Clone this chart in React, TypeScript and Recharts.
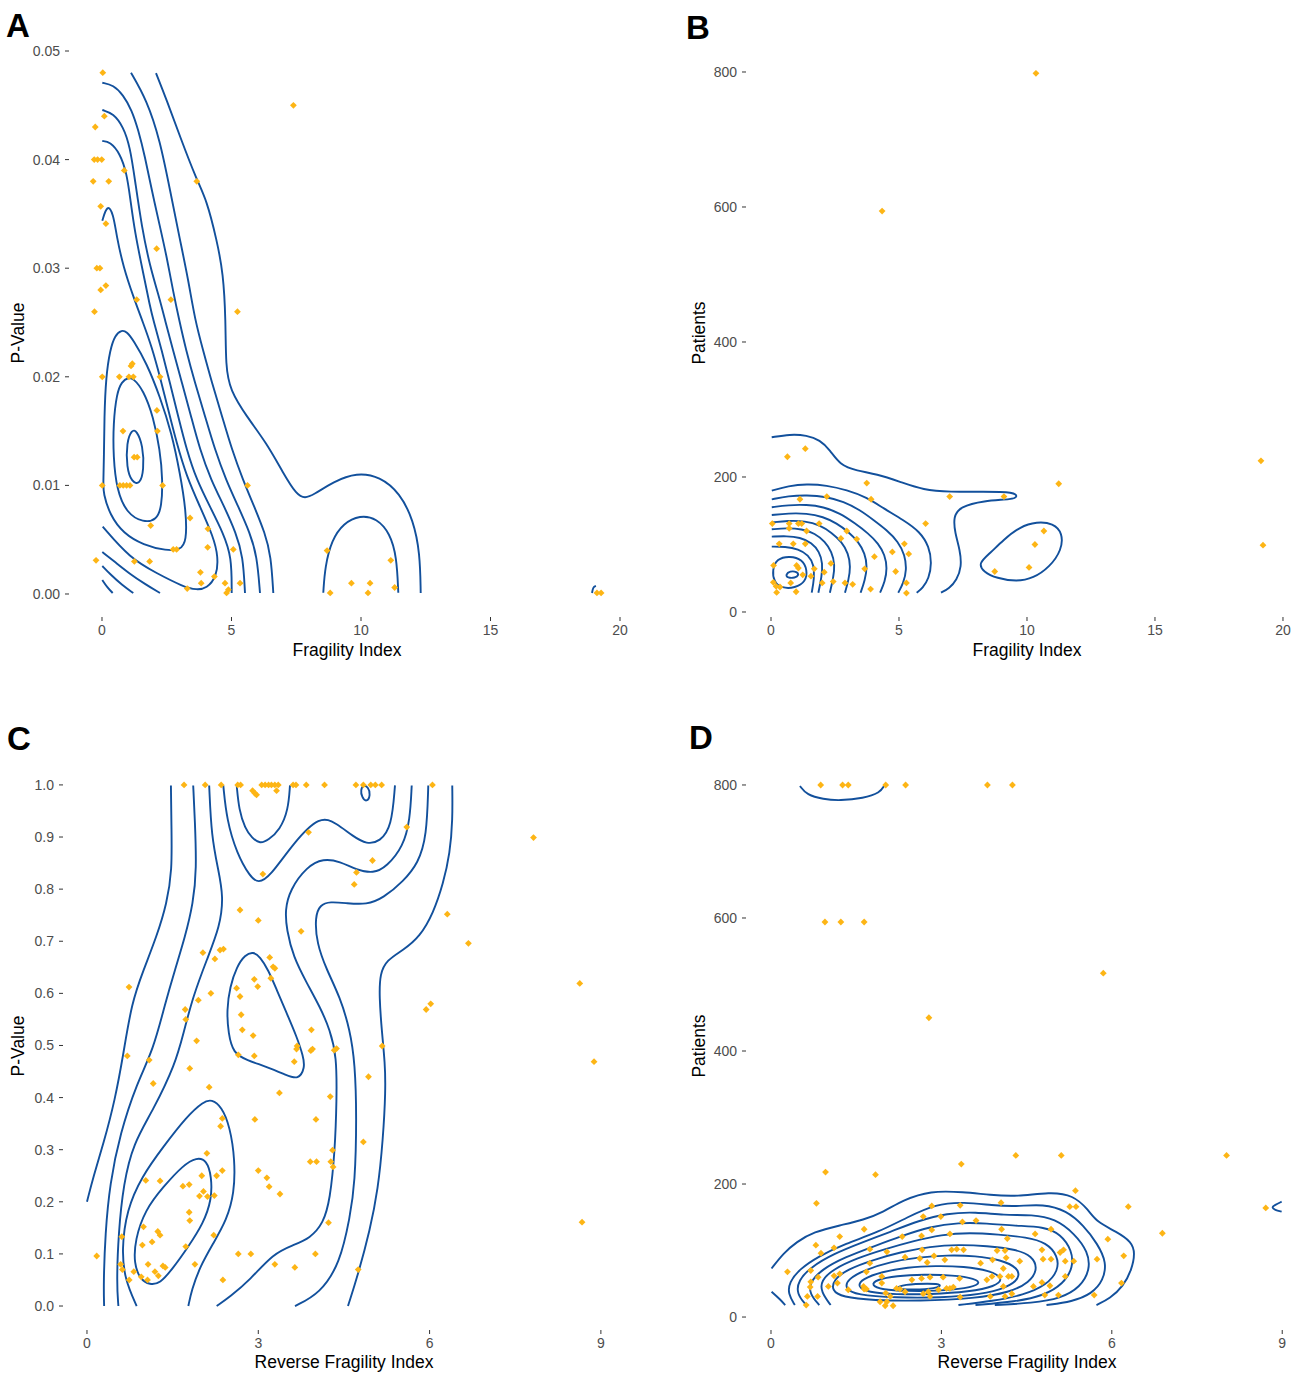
import React from 'react';
import { ScatterChart, Scatter, XAxis, YAxis } from 'recharts';

type P = [number, number];

const BLUE = '#12509C';
const GOLD = '#FDB515';
const FONT = "'Liberation Sans', Arial, Helvetica, sans-serif";

// ---------------- Panel A : Fragility Index vs P-Value ----------------
const A_X_TICKS = [0, 5, 10, 15, 20];
const A_Y_TICKS = [0, 0.01, 0.02, 0.03, 0.04, 0.05];
const A_POINTS: P[] = [
  [0.03, 0.048], [7.39, 0.045], [0.09, 0.044], [-0.26, 0.043], [-0.3, 0.04], [-0.17, 0.04], [-0.01, 0.04],
  [0.86, 0.039], [-0.34, 0.038], [0.26, 0.038], [3.66, 0.038], [-0.05, 0.0357], [0.15, 0.0341], [2.11, 0.0318],
  [-0.2, 0.03], [-0.08, 0.03], [0.15, 0.0284], [-0.05, 0.028], [1.34, 0.0271], [2.66, 0.0271], [-0.29, 0.026],
  [5.23, 0.026], [1.12, 0.021], [1.17, 0.0212], [0.01, 0.02], [0.67, 0.02], [1.04, 0.02], [1.21, 0.02], [2.24, 0.02],
  [2.12, 0.0169], [0.81, 0.015], [2.14, 0.015], [1.24, 0.0126], [1.36, 0.0126], [0.01, 0.01], [0.69, 0.01],
  [0.82, 0.01], [0.95, 0.01], [1.08, 0.01], [2.34, 0.01], [5.62, 0.01], [3.4, 0.007], [1.88, 0.0063], [4.09, 0.006],
  [2.75, 0.0041], [2.88, 0.0041], [4.08, 0.0043], [5.07, 0.0041], [8.69, 0.004], [-0.23, 0.0031], [1.25, 0.003],
  [1.84, 0.003], [11.15, 0.0031], [3.8, 0.002], [4.34, 0.0016], [3.83, 0.001], [4.75, 0.001], [5.33, 0.001],
  [9.63, 0.001], [10.35, 0.001], [11.3, 0.0006], [3.29, 0.0005], [4.81, 0.0001], [4.88, 0.0004], [8.81, 0.0001],
  [10.27, 0.0001], [19.11, 0.0001], [19.27, 0.0001],
];
const A_OPEN: P[][] = [
  [[0.012, 0.03437], [0.205, 0.03591], [0.436, 0.03505], [0.568, 0.0329], [0.822, 0.03014], [1.208, 0.02738],
   [1.595, 0.02493], [1.919, 0.02277], [2.239, 0.02001], [2.56, 0.01694], [2.884, 0.01388], [3.27, 0.0108],
   [3.784, 0.00804], [4.297, 0.00528], [4.49, 0.00343], [4.429, 0.00159], [4.042, 0.00052], [3.656, 0.00037],
   [3.139, 0.00067], [2.112, 0.00191], [1.081, 0.00329], [0.027, 0.0062]],
  [[0.012, 0.00387], [0.502, 0.00295], [1.081, 0.00184], [1.66, 0.00092], [2.239, 0.00009]],
  [[0.012, 0.00258], [0.309, 0.00184], [0.772, 0.00083], [1.208, 0.00009]],
  [[0.012, 0.00129], [0.193, 0.00064], [0.413, 0.00009]],
  [[0.012, 0.04171], [0.309, 0.04165], [0.695, 0.04058], [0.954, 0.03874], [1.081, 0.03659], [1.274, 0.03321],
   [1.595, 0.02953], [1.853, 0.02646], [1.981, 0.02523], [2.305, 0.02247], [2.625, 0.0194], [2.946, 0.01633],
   [3.27, 0.01326], [3.656, 0.0105], [4.17, 0.00804], [4.683, 0.00559], [5.007, 0.00343], [5.007, 0.00009]],
  [[0.012, 0.04457], [0.436, 0.04426], [0.822, 0.04303], [1.081, 0.04119], [1.274, 0.03812], [1.533, 0.03382],
   [1.853, 0.03014], [2.239, 0.02707], [2.432, 0.02523], [2.741, 0.02247], [3.089, 0.01943], [3.436, 0.01639],
   [3.784, 0.01326], [4.208, 0.0105], [4.71, 0.0081], [5.174, 0.00562], [5.444, 0.0035], [5.521, 0.00009]],
  [[0.012, 0.04708], [0.436, 0.04687], [0.822, 0.04595], [1.147, 0.04457], [1.402, 0.04273], [1.66, 0.04027],
   [1.919, 0.0372], [2.239, 0.03382], [2.498, 0.03106], [2.76, 0.02769], [2.98, 0.02523], [3.243, 0.02247],
   [3.591, 0.01943], [3.977, 0.01639], [4.363, 0.01326], [4.788, 0.0105], [5.251, 0.0081], [5.714, 0.00562],
   [5.985, 0.0035], [6.1, 0.00009]],
  [[1.12, 0.048], [1.726, 0.04549], [2.239, 0.0418], [2.625, 0.0372], [3.012, 0.0326], [3.333, 0.02891],
   [3.591, 0.02523], [3.9, 0.02247], [4.247, 0.01943], [4.633, 0.01639], [5.019, 0.01326], [5.444, 0.0105],
   [5.869, 0.0081], [6.293, 0.00562], [6.525, 0.0035], [6.614, 0.00009]],
  [[2.085, 0.04797], [2.498, 0.04549], [3.012, 0.04211], [3.656, 0.03812], [4.042, 0.03628], [4.429, 0.0326],
   [4.683, 0.02953], [4.776, 0.02523], [4.776, 0.02093], [4.942, 0.01878], [5.587, 0.01633], [6.359, 0.01388],
   [7.001, 0.01111], [7.517, 0.00912], [7.838, 0.00881], [8.162, 0.00912], [8.934, 0.01035], [9.834, 0.01118],
   [10.734, 0.01081], [11.506, 0.00928], [12.02, 0.00681], [12.278, 0.00375], [12.305, 0.00009]],
  [[8.544, 0.00012], [8.61, 0.00251], [8.869, 0.00497], [9.317, 0.00651], [9.961, 0.00727], [10.606, 0.00697],
   [11.12, 0.00559], [11.378, 0.00343], [11.44, 0.00012]],
  [[18.92, 0.00009], [18.96, 0.00064], [19.07, 0.00074]],
];
const A_CLOSED: P[][] = [
  [[1.147, 0.01514], [0.95, 0.01398], [0.95, 0.01162], [1.147, 0.0103], [1.46, 0.01005], [1.62, 0.01142],
   [1.58, 0.01366], [1.34, 0.01505]],
  [[1.015, 0.01995], [0.761, 0.01955], [0.568, 0.01848], [0.436, 0.01572], [0.436, 0.01264], [0.568, 0.00958],
   [0.954, 0.00743], [1.595, 0.00657], [2.112, 0.00681], [2.305, 0.00804], [2.344, 0.0105], [2.239, 0.01326],
   [1.981, 0.01633], [1.595, 0.01878], [1.208, 0.01986]],
  [[0.761, 0.02431], [0.502, 0.02385], [0.309, 0.02247], [0.154, 0.02001], [0.089, 0.01633], [0.077, 0.01264],
   [0.05, 0.01019], [0.05, 0.00927], [0.309, 0.00727], [0.822, 0.00559], [1.595, 0.00451], [2.498, 0.00399],
   [3.012, 0.00405], [3.27, 0.00482], [3.243, 0.00773], [3.012, 0.01111], [2.691, 0.0148], [2.239, 0.01817],
   [1.726, 0.02124], [1.208, 0.02339], [0.954, 0.02416]],
];

// ---------------- Panel B : Fragility Index vs Patients ----------------
const B_X_TICKS = [0, 5, 10, 15, 20];
const B_Y_TICKS = [0, 200, 400, 600, 800];
const B_POINTS: P[] = [
  [10.35, 798], [4.34, 594], [19.14, 224], [19.22, 99], [11.24, 190], [9.1, 171], [10.66, 120], [10.31, 100],
  [10.08, 66], [8.74, 60], [1.34, 242], [0.64, 230], [3.74, 191], [1.13, 167], [2.18, 171], [3.91, 167],
  [6.98, 171], [6.04, 131], [0.05, 131], [0.71, 131], [1.07, 131], [1.2, 131], [0.71, 124], [1.39, 120],
  [1.88, 131], [2.96, 120], [3.35, 108], [2.73, 109], [0.32, 101], [0.87, 101], [1.34, 101], [5.21, 101],
  [5.38, 86], [4.74, 89], [4.04, 82], [0.1, 69], [1.0, 69], [1.07, 65], [1.69, 64], [2.34, 72], [3.66, 64],
  [4.87, 60], [1.24, 55], [2.08, 59], [1.56, 53], [0.09, 44], [0.77, 43], [2.0, 43], [2.43, 45], [2.89, 43],
  [3.19, 41], [5.29, 43], [0.2, 38], [0.35, 37], [0.22, 29], [0.98, 30], [3.89, 34], [5.29, 28],
];
const B_OPEN: P[][] = [
  [[0.027, 258.8], [0.742, 263.3], [1.395, 261.8], [1.914, 254.8], [2.305, 240], [2.695, 217.8], [3.348, 209.3],
   [4.129, 204.4], [5.039, 193], [5.951, 180.7], [6.992, 177.8], [8.293, 178.2], [9.531, 177.8], [9.621, 170.8],
   [9.465, 167], [8.293, 164.9], [7.383, 156], [7.122, 141.2], [7.188, 116.6], [7.383, 91.9], [7.449, 67.1],
   [7.254, 47.4], [6.965, 35.1], [6.641, 28.6]],
  [[0.03, 179.7], [0.68, 186.7], [1.39, 189.6], [2.17, 187.7], [2.96, 180.7], [3.74, 169.9], [4.39, 153.6],
   [5.17, 136.3], [5.82, 119.0], [6.18, 96.8], [6.28, 72.1], [6.17, 49.9], [5.92, 35.1], [5.69, 28.6]],
  [[0.03, 166.9], [0.68, 171.8], [1.39, 173.3], [2.17, 170.9], [2.83, 163.5], [3.48, 151.1], [4.0, 136.3],
   [4.52, 121.5], [4.97, 104.2], [5.23, 84.4], [5.3, 62.2], [5.17, 42.5], [4.97, 28.6]],
  [[0.03, 155.1], [0.68, 158.5], [1.39, 159.0], [2.04, 156.0], [2.7, 146.2], [3.28, 131.4], [3.8, 116.5],
   [4.19, 101.7], [4.45, 84.4], [4.54, 64.7], [4.45, 44.9], [4.26, 28.6]],
  [[0.03, 143.7], [0.68, 146.2], [1.39, 146.2], [2.04, 141.2], [2.57, 131.4], [3.02, 119.0], [3.41, 104.2],
   [3.67, 86.9], [3.76, 67.2], [3.67, 47.4], [3.5, 28.6]],
  [[0.03, 132.8], [0.68, 135.3], [1.33, 134.8], [1.91, 128.9], [2.37, 117.5], [2.76, 104.2], [3.02, 86.9],
   [3.11, 67.2], [3.03, 47.4], [2.89, 28.6]],
  [[0.03, 122.5], [0.61, 124.4], [1.2, 123.0], [1.72, 116.5], [2.11, 104.2], [2.37, 89.4], [2.5, 69.6],
   [2.43, 49.9], [2.3, 28.6]],
  [[0.03, 111.6], [0.61, 112.6], [1.13, 110.6], [1.59, 102.7], [1.89, 89.4], [2.02, 72.1], [1.98, 52.3],
   [1.85, 28.6]],
  [[0.03, 96.8], [0.55, 96.8], [1.07, 93.3], [1.46, 84.4], [1.68, 69.6], [1.69, 49.9], [1.59, 28.6]],
];
const B_CLOSED: P[][] = [
  [[8.098, 72.1], [8.555, 87], [9.074, 106.7], [9.727, 126.4], [10.379, 133.8], [11.027, 131.4], [11.395, 116.6],
   [11.355, 91.9], [10.898, 67.1], [10.246, 49.9], [9.598, 44.9], [8.816, 49.9], [8.293, 59.7]],
  [[0.22, 79.0], [0.74, 83.0], [1.22, 78.0], [1.42, 62.2], [1.36, 44.9], [0.94, 35.5], [0.42, 35.0], [0.11, 44.9],
   [0.05, 62.2]],
  [[0.57, 55.3], [0.74, 60.8], [1.02, 59.8], [1.09, 54.3], [0.94, 50.4], [0.64, 50.4]],
];

// ---------------- Panel C : Reverse Fragility Index vs P-Value ----------------
const C_X_TICKS = [0, 3, 6, 9];
const C_Y_TICKS = [0, 0.1, 0.2, 0.3, 0.4, 0.5, 0.6, 0.7, 0.8, 0.9, 1.0];
const C_TOP_ROW_X = [1.7, 2.07, 2.35, 2.64, 2.69, 3.06, 3.12, 3.18, 3.23, 3.29, 3.35, 3.61, 3.66, 3.84, 4.16,
  4.71, 4.84, 4.97, 5.05, 5.16, 6.05];
const C_POINTS: P[] = [
  [2.9, 0.989], [2.94, 0.984], [2.97, 0.981], [3.32, 0.989], [3.88, 0.909], [3.08, 0.829], [4.72, 0.832],
  [4.68, 0.809], [2.68, 0.76], [3.0, 0.74], [3.75, 0.719], [2.03, 0.678], [2.24, 0.666], [2.33, 0.683],
  [2.39, 0.685], [3.2, 0.669], [3.29, 0.648], [3.26, 0.651], [0.736, 0.612], [2.93, 0.627], [2.99, 0.613],
  [3.22, 0.629], [2.62, 0.61], [2.68, 0.594], [2.17, 0.6], [1.95, 0.587], [1.72, 0.569], [1.73, 0.55],
  [2.7, 0.559], [2.72, 0.53], [2.91, 0.519], [3.93, 0.53], [1.92, 0.509], [3.68, 0.499], [3.67, 0.493],
  [3.92, 0.49], [3.95, 0.493], [4.33, 0.491], [4.37, 0.494], [0.706, 0.48], [1.09, 0.472], [2.65, 0.482],
  [2.93, 0.48], [5.6, 0.919], [7.82, 0.899], [5.0, 0.855], [6.31, 0.752], [6.68, 0.696], [8.63, 0.619],
  [6.02, 0.58], [5.94, 0.569], [5.17, 0.499], [3.63, 0.469], [8.88, 0.469], [4.93, 0.44], [1.8, 0.456],
  [1.16, 0.427], [2.14, 0.42], [3.37, 0.409], [4.26, 0.402], [2.37, 0.36], [2.34, 0.345], [2.94, 0.358],
  [4.01, 0.358], [4.84, 0.315], [4.3, 0.299], [2.1, 0.293], [3.91, 0.277], [4.02, 0.277], [4.27, 0.277],
  [4.31, 0.267], [3.0, 0.26], [3.15, 0.246], [3.19, 0.229], [3.38, 0.215], [2.37, 0.26], [2.27, 0.25],
  [2.01, 0.25], [1.03, 0.241], [1.28, 0.24], [1.68, 0.23], [1.79, 0.233], [2.04, 0.22], [1.97, 0.211],
  [2.11, 0.21], [2.23, 0.212], [1.79, 0.18], [1.8, 0.164], [0.99, 0.152], [1.24, 0.143], [1.28, 0.136],
  [0.61, 0.133], [1.14, 0.123], [0.97, 0.117], [2.22, 0.136], [1.73, 0.114], [0.17, 0.096], [2.65, 0.1],
  [2.87, 0.1], [4.0, 0.1], [4.23, 0.16], [8.67, 0.161], [0.59, 0.08], [0.62, 0.07], [1.07, 0.08], [1.33, 0.077],
  [1.37, 0.074], [1.89, 0.08], [3.29, 0.08], [3.64, 0.074], [4.75, 0.07], [0.82, 0.066], [0.95, 0.056],
  [0.74, 0.05], [1.06, 0.05], [1.19, 0.066], [1.25, 0.058], [2.38, 0.05],
];
const C_OPEN: P[][] = [
  [[0.0, 0.2], [0.11, 0.248], [0.29, 0.312], [0.49, 0.395], [0.64, 0.485], [0.78, 0.581], [0.99, 0.645],
   [1.22, 0.709], [1.4, 0.773], [1.49, 0.837], [1.48, 0.914], [1.47, 0.999]],
  [[1.86, 0.999], [1.89, 0.933], [1.92, 0.837], [1.86, 0.773], [1.72, 0.709], [1.54, 0.645], [1.37, 0.581],
   [1.16, 0.491], [0.87, 0.427], [0.58, 0.331], [0.4, 0.235], [0.32, 0.139], [0.29, 0.043], [0.3, 0.0]],
  [[2.14, 0.999], [2.18, 0.901], [2.3, 0.837], [2.39, 0.786], [2.33, 0.729], [2.1, 0.665], [1.86, 0.595],
   [1.69, 0.524], [1.55, 0.465], [1.16, 0.376], [0.81, 0.312], [0.64, 0.235], [0.55, 0.139], [0.52, 0.043],
   [0.55, 0.0]],
  [[0.87, 0.0], [0.665, 0.0499], [0.607, 0.1075], [0.695, 0.1843], [0.957, 0.2483], [1.337, 0.3058],
   [1.745, 0.3634], [2.037, 0.3922], [2.183, 0.3967], [2.358, 0.3826], [2.504, 0.3442], [2.592, 0.2802],
   [2.58, 0.2163], [2.446, 0.1651], [2.212, 0.1203], [1.979, 0.0755], [1.833, 0.0307], [1.775, 0.0]],
  [[2.622, 0.999], [2.662, 0.952], [2.767, 0.917], [2.89, 0.898], [3.03, 0.887], [3.175, 0.894], [3.38, 0.914],
   [3.525, 0.952], [3.555, 0.999]],
  [[2.387, 0.999], [2.447, 0.933], [2.622, 0.869], [2.855, 0.824], [3.0, 0.811], [3.205, 0.824], [3.613, 0.888],
   [4.081, 0.942], [4.373, 0.926], [4.664, 0.901], [4.898, 0.886], [5.131, 0.891], [5.336, 0.92], [5.394, 0.999]],
  [[5.687, 0.999], [5.657, 0.933], [5.54, 0.882], [5.248, 0.843], [5.014, 0.83], [4.723, 0.837], [4.431, 0.853],
   [4.139, 0.859], [3.848, 0.843], [3.555, 0.799], [3.468, 0.76], [3.497, 0.722], [3.613, 0.67], [3.848, 0.62],
   [4.081, 0.574], [4.256, 0.53], [4.373, 0.479], [4.373, 0.395], [4.343, 0.299], [4.256, 0.203], [4.139, 0.159],
   [3.906, 0.13], [3.613, 0.117], [3.263, 0.101], [2.855, 0.05], [2.504, 0.018], [2.271, 0.0]],
  [[5.977, 0.999], [5.949, 0.901], [5.802, 0.85], [5.54, 0.815], [5.189, 0.783], [4.898, 0.77], [4.548, 0.773],
   [4.256, 0.776], [4.081, 0.77], [3.993, 0.747], [4.023, 0.696], [4.198, 0.645], [4.431, 0.593], [4.606, 0.53],
   [4.694, 0.466], [4.723, 0.363], [4.694, 0.235], [4.606, 0.171], [4.431, 0.082], [4.081, 0.024], [3.643, 0.0]],
  [[6.397, 0.999], [6.404, 0.933], [6.357, 0.869], [6.24, 0.811], [6.065, 0.754], [5.832, 0.709], [5.54, 0.683],
   [5.248, 0.664], [5.131, 0.638], [5.119, 0.594], [5.161, 0.53], [5.219, 0.466], [5.231, 0.415], [5.184, 0.319],
   [5.096, 0.223], [4.956, 0.146], [4.746, 0.06], [4.571, 0.0]],
];
const C_CLOSED: P[][] = [
  [[1.103, 0.0403], [0.928, 0.0512], [0.823, 0.0819], [0.841, 0.1267], [1.016, 0.1843], [1.337, 0.229],
   [1.687, 0.2706], [1.921, 0.2853], [2.096, 0.2802], [2.183, 0.2483], [2.183, 0.2034], [2.037, 0.1587],
   [1.775, 0.1139], [1.483, 0.0691], [1.278, 0.0435]],
  [[2.912, 0.68], [2.767, 0.674], [2.622, 0.651], [2.504, 0.613], [2.447, 0.568], [2.475, 0.523], [2.562, 0.485],
   [2.797, 0.472], [3.147, 0.459], [3.497, 0.443], [3.7, 0.434], [3.818, 0.457], [3.788, 0.479], [3.673, 0.517],
   [3.497, 0.562], [3.322, 0.607], [3.175, 0.645], [3.03, 0.67]],
  [[4.839, 1.0], [4.927, 0.996], [4.968, 0.981], [4.898, 0.966], [4.81, 0.977], [4.793, 0.991]],
];

// ---------------- Panel D : Reverse Fragility Index vs Patients ----------------
const D_X_TICKS = [0, 3, 6, 9];
const D_Y_TICKS = [0, 200, 400, 600, 800];
const D_TOP_ROW_X = [0.875, 1.26, 1.36, 2.02, 2.37, 3.81, 4.25];
const D_POINTS: P[] = [
  [0.95, 594], [1.23, 594], [1.64, 594], [2.78, 450], [5.85, 517], [8.02, 243], [8.71, 164], [6.89, 126],
  [6.29, 166], [5.93, 117], [4.31, 243], [5.11, 243], [5.36, 190], [4.05, 172], [5.26, 166], [5.37, 166],
  [4.93, 132], [4.65, 125], [4.06, 132], [4.16, 118], [6.21, 92], [5.74, 87], [6.17, 51], [5.69, 33],
  [3.98, 100], [4.12, 100], [4.38, 84], [4.77, 101], [4.93, 87], [4.79, 87], [5.09, 97], [5.15, 101],
  [5.18, 84], [5.33, 84], [5.18, 61], [4.09, 73], [3.89, 61], [4.03, 61], [4.18, 61], [4.24, 61], [4.14, 89],
  [3.9, 86], [4.62, 46], [4.77, 52], [4.91, 47], [5.06, 33], [4.82, 33], [4.24, 35], [4.09, 46],
  [0.96, 218], [1.84, 214], [0.8, 171], [3.35, 230], [2.83, 167], [3.33, 168], [2.68, 151], [2.99, 151],
  [3.37, 143], [3.61, 145], [1.64, 132], [2.31, 121], [2.65, 122], [2.83, 131], [3.15, 125], [1.21, 121],
  [0.79, 108], [1.11, 104], [0.88, 96], [1.74, 102], [2.04, 98], [2.66, 101], [2.36, 90], [2.62, 88],
  [2.87, 92], [3.18, 101], [3.27, 102], [3.39, 101], [3.06, 86], [2.75, 82], [3.69, 81], [0.29, 68], [0.7, 70],
  [0.83, 60], [1.11, 62], [1.21, 65], [1.68, 68], [1.74, 81], [1.95, 61], [1.95, 51], [1.63, 46], [1.68, 42],
  [2.48, 56], [2.65, 58], [2.8, 60], [3.03, 60], [3.32, 58], [3.8, 56], [4.12, 31], [3.86, 31], [3.33, 30],
  [3.09, 43], [3.15, 43], [3.21, 45], [2.95, 41], [2.77, 38], [2.68, 35], [2.02, 36], [2.1, 31], [2.01, 17],
  [2.15, 17], [2.36, 38], [2.21, 43], [2.27, 42], [1.64, 42], [1.36, 41], [1.17, 51], [1.01, 46], [0.69, 45],
  [0.7, 53], [0.82, 31], [0.64, 31], [0.62, 18], [2.8, 31], [1.92, 23], [2.04, 23],
];
const D_OPEN: P[][] = [
  [[0.01, 73], [0.22, 96], [0.45, 113], [0.75, 128], [1.22, 138], [1.63, 146], [1.98, 158], [2.33, 176],
   [2.8, 190], [3.39, 188], [3.86, 183.5], [4.33, 181], [4.91, 188], [5.32, 183.5], [5.59, 161], [5.73, 143],
   [6.09, 128], [6.35, 113], [6.41, 96], [6.35, 71], [6.2, 46], [5.97, 28], [5.73, 18]],
  [[0.01, 38], [0.16, 26.6], [0.25, 18]],
  [[0.42, 18], [0.3, 35], [0.32, 52], [0.5, 72], [0.85, 92], [1.3, 110], [1.9, 128], [2.4, 150], [2.9, 170],
   [3.4, 173], [3.9, 168], [4.3, 166], [4.8, 170], [5.2, 160], [5.5, 138], [5.75, 110], [5.91, 82], [5.85, 55],
   [5.65, 35], [5.3, 23], [4.85, 18]],
  [[0.62, 18], [0.45, 35], [0.48, 55], [0.7, 75], [1.1, 95], [1.6, 112], [2.1, 128], [2.6, 145], [3.1, 156],
   [3.6, 158], [4.1, 153], [4.6, 154], [5.0, 148], [5.35, 125], [5.58, 98], [5.62, 72], [5.45, 45], [5.1, 28],
   [4.6, 21], [3.94, 18]],
  [[0.85, 18], [0.68, 35], [0.68, 52], [0.9, 72], [1.3, 90], [1.8, 106], [2.3, 122], [2.8, 136], [3.3, 142],
   [3.8, 141], [4.3, 137], [4.8, 136], [5.1, 125], [5.3, 100], [5.32, 75], [5.15, 50], [4.8, 32], [4.3, 23],
   [3.6, 18]],
  [[1.05, 18], [0.88, 38], [0.88, 55], [1.1, 72], [1.5, 88], [2.0, 102], [2.5, 114], [3.0, 124], [3.5, 127],
   [4.0, 124], [4.5, 120], [4.85, 112], [5.05, 92], [5.06, 70], [4.85, 48], [4.45, 33], [3.9, 24], [3.3, 18]],
  [[0.51, 798.5], [0.63, 785], [0.92, 778.5], [1.21, 776.4], [1.63, 780], [1.92, 788.4], [1.99, 798.5]],
  [[8.99, 173.4], [8.87, 168.4], [8.81, 165], [8.87, 161], [8.99, 158.4]],
];
const D_CLOSED: P[][] = [
  [[1.25, 30], [1.07, 40], [1.1, 56], [1.35, 72], [1.8, 86], [2.3, 98], [2.8, 106], [3.3, 109], [3.8, 107],
   [4.3, 102], [4.6, 92], [4.7, 72], [4.55, 52], [4.2, 37], [3.6, 28], [2.6, 24], [1.8, 25]],
  [[1.5, 33], [1.3, 43], [1.35, 57], [1.65, 71], [2.1, 83], [2.6, 90], [3.1, 93], [3.6, 92], [4.05, 86],
   [4.35, 74], [4.38, 58], [4.15, 44], [3.7, 34], [3.0, 29], [2.2, 29]],
  [[1.7, 37], [1.52, 46], [1.6, 57], [1.95, 68], [2.4, 75], [2.9, 77], [3.4, 76], [3.85, 70], [4.1, 58],
   [3.95, 46], [3.5, 38], [2.8, 34], [2.2, 34]],
  [[1.95, 41], [1.76, 48], [1.85, 56], [2.2, 62], [2.7, 64], [3.2, 63], [3.6, 58], [3.7, 50], [3.45, 43],
   [2.9, 39], [2.4, 39]],
  [[2.18, 43.2], [2.33, 49.1], [2.8, 50.6], [3.02, 49.0], [2.92, 42.7], [2.45, 41.0]],
];

// ---------------------------------------------------------------------
const toPts = (arr: P[]) => arr.map(([x, y]) => ({ x, y }));

const Diamond = (props: any) => {
  const { cx, cy } = props;
  if (cx == null || cy == null || isNaN(cx) || isNaN(cy)) return <g />;
  const r = 3.4;
  return (
    <polygon
      points={`${cx},${cy - r} ${cx + r},${cy} ${cx},${cy + r} ${cx - r},${cy}`}
      fill={GOLD}
    />
  );
};
const NoShape = () => <g />;

type PanelProps = {
  left: number; top: number; width: number; height: number;
  margin: { top: number; right: number; bottom: number; left: number };
  yAxisWidth: number;
  xDomain: [number, number]; yDomain: [number, number];
  xTicks: number[]; yTicks: number[];
  yFmt: (v: number) => string;
  open: P[][]; closed: P[][]; points: P[];
};

const tickStyle = { fill: '#4D4D4D', fontSize: 14, fontFamily: FONT };

function Panel(p: PanelProps) {
  return (
    <div style={{ position: 'absolute', left: p.left, top: p.top }}>
      <ScatterChart width={p.width} height={p.height} margin={p.margin}>
        <XAxis
          type="number" dataKey="x" domain={p.xDomain} ticks={p.xTicks} allowDataOverflow interval={0}
          axisLine={false} tickLine={{ stroke: '#333333' }} tickSize={4} tickMargin={4} height={30}
          tick={tickStyle}
        />
        <YAxis
          type="number" dataKey="y" domain={p.yDomain} ticks={p.yTicks} allowDataOverflow interval={0}
          axisLine={false} tickLine={{ stroke: '#333333' }} tickSize={4} tickMargin={5} width={p.yAxisWidth}
          tick={tickStyle} tickFormatter={p.yFmt}
        />
        {p.open.map((c, i) => (
          <Scatter
            key={'o' + i} data={toPts(c)} shape={NoShape} isAnimationActive={false}
            line={{ stroke: BLUE, strokeWidth: 1.9, fill: 'none' }} lineType="joint" lineJointType="basis"
          />
        ))}
        {p.closed.map((c, i) => (
          <Scatter
            key={'c' + i} data={toPts(c)} shape={NoShape} isAnimationActive={false}
            line={{ stroke: BLUE, strokeWidth: 1.9, fill: 'none' }} lineType="joint" lineJointType="basisClosed"
          />
        ))}
        <Scatter data={toPts(p.points)} shape={Diamond} isAnimationActive={false} />
      </ScatterChart>
    </div>
  );
}

const Title = ({ x, y, text, rotate }: { x: number; y: number; text: string; rotate?: boolean }) => (
  <div
    style={{
      position: 'absolute', left: x, top: y, whiteSpace: 'nowrap', fontFamily: FONT, fontSize: 17.5,
      lineHeight: 1, color: '#000',
      transform: rotate ? 'translate(-50%, -50%) rotate(-90deg)' : 'translate(-50%, -50%)',
    }}
  >
    {text}
  </div>
);

const Letter = ({ x, y, text }: { x: number; y: number; text: string }) => (
  <div
    style={{
      position: 'absolute', left: x, top: y, fontFamily: FONT, fontSize: 33, fontWeight: 'bold',
      lineHeight: 1, color: '#000',
    }}
  >
    {text}
  </div>
);

export default function App() {
  const cPoints: P[] = [...C_TOP_ROW_X.map((x) => [x, 1.0] as P), ...C_POINTS];
  const dPoints: P[] = [...D_TOP_ROW_X.map((x) => [x, 800] as P), ...D_POINTS];
  return (
    <div style={{ position: 'absolute', left: 0, top: 0, width: 1303, height: 1375, background: '#fff', overflow: 'hidden' }}>
      <Panel
        left={0} top={0} width={650} height={680} margin={{ top: 30, right: 10, bottom: 33, left: 0 }}
        yAxisWidth={69} xDomain={[-1.274, 20.772]} yDomain={[-0.002118, 0.051934]}
        xTicks={A_X_TICKS} yTicks={A_Y_TICKS} yFmt={(v) => v.toFixed(2)}
        open={A_OPEN} closed={A_CLOSED} points={A_POINTS}
      />
      <Panel
        left={650} top={0} width={653} height={680} margin={{ top: 30, right: 8, bottom: 33, left: 0 }}
        yAxisWidth={96} xDomain={[-0.977, 20.47]} yDomain={[-7.41, 862.2]}
        xTicks={B_X_TICKS} yTicks={B_Y_TICKS} yFmt={(v) => String(v)}
        open={B_OPEN} closed={B_CLOSED} points={B_POINTS}
      />
      <Panel
        left={0} top={690} width={650} height={685} margin={{ top: 60, right: 10, bottom: 15, left: 0 }}
        yAxisWidth={63} xDomain={[-0.42, 9.685]} yDomain={[-0.046, 1.067]}
        xTicks={C_X_TICKS} yTicks={C_Y_TICKS} yFmt={(v) => v.toFixed(1)}
        open={C_OPEN} closed={C_CLOSED} points={cPoints}
      />
      <Panel
        left={650} top={690} width={653} height={685} margin={{ top: 60, right: 8, bottom: 15, left: 0 }}
        yAxisWidth={96} xDomain={[-0.44, 9.225]} yDomain={[-19.5, 852.6]}
        xTicks={D_X_TICKS} yTicks={D_Y_TICKS} yFmt={(v) => String(v)}
        open={D_OPEN} closed={D_CLOSED} points={dPoints}
      />
      <Letter x={6} y={9} text="A" />
      <Letter x={686} y={11} text="B" />
      <Letter x={7} y={722} text="C" />
      <Letter x={689} y={721} text="D" />
      <Title x={347} y={651} text="Fragility Index" />
      <Title x={1027} y={651} text="Fragility Index" />
      <Title x={344} y={1363} text="Reverse Fragility Index" />
      <Title x={1027} y={1363} text="Reverse Fragility Index" />
      <Title x={19} y={333} text="P-Value" rotate />
      <Title x={700} y={333} text="Patients" rotate />
      <Title x={19} y={1046} text="P-Value" rotate />
      <Title x={700} y={1046} text="Patients" rotate />
    </div>
  );
}
